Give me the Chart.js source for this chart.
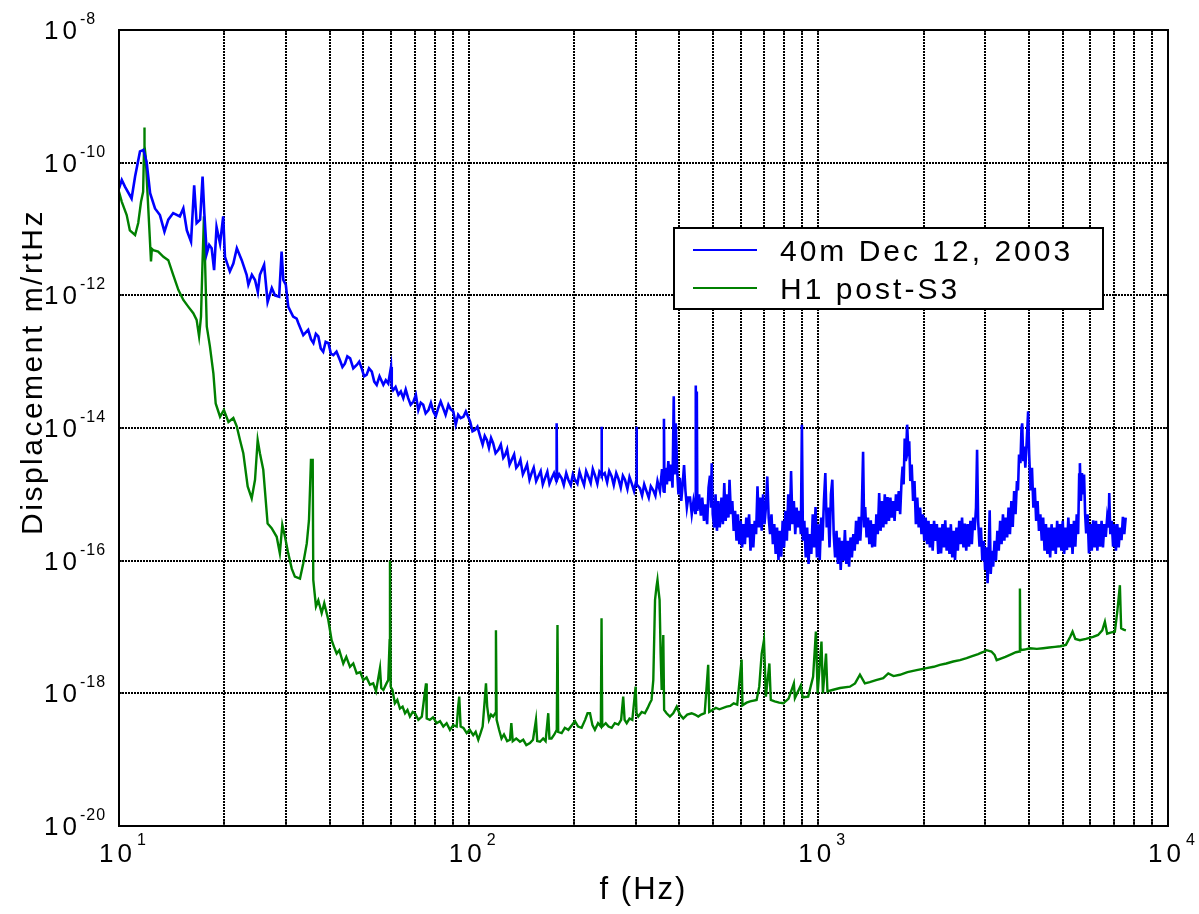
<!DOCTYPE html>
<html><head><meta charset="utf-8">
<script src="https://cdn.jsdelivr.net/npm/chart.js@4.4.1/dist/chart.umd.min.js"></script>
<style>html,body{margin:0;padding:0;background:#fff;}</style>
</head><body>
<canvas id="c" width="1199" height="914" style="width:1199px;height:914px;display:block"></canvas>
<script>
// ---- data (log10 frequency [Hz], log10 displacement [m/rtHz]) ----
const seriesLabels = ['40m Dec 12, 2003', 'H1 post-S3'];
const xGridValues = [10,20,30,40,50,60,70,80,90,100,200,300,400,500,600,700,800,900,1000,2000,3000,4000,5000,6000,7000,8000,9000,10000];
const yGridValues = [1e-20,1e-18,1e-16,1e-14,1e-12,1e-10,1e-8];
const xLabelValues = [10,100,1000,10000];
const xLabelExps = ['1','2','3','4'];
const yLabelValues = [1e-20,1e-18,1e-16,1e-14,1e-12,1e-10,1e-8];
const yLabelExps = ['-20','-18','-16','-14','-12','-10','-8'];

const blueLow = [[1.000,-10.39],[1.008,-10.26],[1.017,-10.36],[1.036,-10.54],[1.046,-10.21],[1.060,-9.83],[1.070,-9.81],[1.079,-9.99],[1.089,-10.46],[1.103,-10.69],[1.117,-10.79],[1.130,-11.04],[1.141,-10.86],[1.155,-10.76],[1.174,-10.81],[1.184,-10.69],[1.194,-11.02],[1.206,-11.19],[1.215,-10.34],[1.222,-10.91],[1.232,-10.86],[1.239,-10.21],[1.244,-10.76],[1.251,-11.37],[1.258,-11.24],[1.265,-11.29],[1.272,-11.62],[1.279,-10.97],[1.289,-11.22],[1.298,-10.81],[1.303,-11.42],[1.317,-11.64],[1.327,-11.52],[1.337,-11.29],[1.351,-11.47],[1.365,-11.69],[1.370,-11.84],[1.380,-11.69],[1.389,-11.77],[1.397,-11.95],[1.403,-11.69],[1.415,-11.54],[1.425,-12.10],[1.437,-11.89],[1.446,-12.00],[1.458,-12.02],[1.465,-11.34],[1.470,-11.77],[1.477,-11.84],[1.484,-12.17],[1.498,-12.32],[1.508,-12.35],[1.513,-12.42],[1.527,-12.60]];
const blueMid = [[1.541,-12.52],[1.549,-12.66],[1.556,-12.72],[1.563,-12.58],[1.570,-12.62],[1.577,-12.80],[1.584,-12.85],[1.591,-12.70],[1.599,-12.72],[1.606,-12.88],[1.613,-12.90],[1.622,-12.85],[1.632,-12.98],[1.639,-13.08],[1.646,-13.03],[1.653,-12.92],[1.661,-12.95],[1.670,-13.10],[1.680,-13.05],[1.687,-13.00],[1.694,-13.10],[1.701,-13.22],[1.708,-13.20],[1.715,-13.10],[1.723,-13.15],[1.730,-13.30],[1.737,-13.35],[1.745,-13.22],[1.756,-13.35],[1.763,-13.28],[1.770,-13.33],[1.778,-13.08],[1.780,-13.38],[1.784,-13.43],[1.791,-13.38],[1.799,-13.50],[1.806,-13.45],[1.813,-13.55],[1.820,-13.42],[1.827,-13.55],[1.834,-13.65],[1.842,-13.60],[1.849,-13.50],[1.856,-13.73],[1.863,-13.62],[1.870,-13.65],[1.877,-13.78],[1.885,-13.73],[1.892,-13.62],[1.899,-13.75],[1.906,-13.82],[1.913,-13.70],[1.920,-13.60],[1.927,-13.70],[1.934,-13.80],[1.942,-13.65],[1.949,-13.72],[1.956,-13.75],[1.963,-13.95],[1.970,-13.80],[1.977,-13.85],[1.985,-13.83],[1.992,-13.75],[2.004,-13.90],
[2.011,-14.05],[2.018,-14.03],[2.025,-13.98],[2.032,-14.11],[2.040,-14.25],[2.046,-14.12],[2.052,-14.18],[2.058,-14.30],[2.064,-14.15],[2.070,-14.23],[2.077,-14.38],[2.085,-14.33],[2.092,-14.25],[2.099,-14.45],[2.104,-14.41],[2.110,-14.32],[2.117,-14.55],[2.123,-14.48],[2.130,-14.40],[2.136,-14.60],[2.142,-14.56],[2.148,-14.48],[2.155,-14.70],[2.161,-14.63],[2.167,-14.55],[2.174,-14.78],[2.180,-14.68],[2.186,-14.60],[2.193,-14.80],[2.199,-14.73],[2.206,-14.65],[2.212,-14.85],[2.218,-14.76],[2.225,-14.66],[2.231,-14.84],[2.237,-14.76],[2.244,-14.68],[2.2505,-14.80],[2.2516,-13.93],[2.2527,-14.78],[2.259,-14.70],[2.266,-14.76],[2.272,-14.86],[2.279,-14.68],[2.285,-14.78],[2.292,-14.86],[2.298,-14.70],[2.304,-14.78],[2.311,-14.84],[2.317,-14.66],[2.323,-14.76],[2.330,-14.86],[2.336,-14.65],[2.342,-14.73],[2.349,-14.83],[2.355,-14.62],[2.361,-14.71],[2.368,-14.84],[2.374,-14.66],[2.379,-14.70],[2.380,-13.98],[2.381,-14.72],[2.389,-14.68],[2.396,-14.82],[2.402,-14.65],[2.409,-14.73],[2.415,-14.86],[2.422,-14.68],[2.428,-14.76],[2.435,-14.90],[2.441,-14.72],[2.447,-14.78],[2.454,-14.92],[2.460,-14.74],[2.466,-14.83],[2.473,-14.95],[2.479,-14.80],[2.480,-13.98],[2.481,-14.85],[2.490,-14.91],[2.496,-15.02],[2.502,-14.85],[2.509,-14.96],[2.515,-15.05],[2.521,-14.88],[2.528,-14.94],[2.534,-15.02],[2.540,-14.80],[2.547,-14.95],[2.553,-14.62],[2.5575,-14.95],[2.5585,-13.86],[2.560,-14.98],[2.563,-14.60],[2.567,-14.85],[2.571,-14.50],[2.575,-14.80],[2.579,-14.55],[2.583,-14.90],[2.5865,-13.52],[2.589,-14.70],[2.5925,-13.93],[2.596,-14.62],[2.600,-15.00],[2.604,-14.75],[2.608,-15.10],[2.612,-14.85],[2.616,-14.56],[2.620,-14.95],[2.624,-15.20],[2.628,-15.05]];
const blueHigh = [[2.633,-15.05],[2.638,-15.30],[2.643,-15.10],[2.648,-15.28],[2.6495,-13.36],[2.651,-15.05],[2.6525,-13.45],[2.654,-15.25],[2.659,-15.00],[2.664,-15.32],[2.668,-15.05],[2.673,-15.40],[2.677,-15.15],[2.682,-15.45],[2.686,-14.90],[2.690,-14.72],[2.693,-15.20],[2.695,-14.53],[2.698,-15.30],[2.702,-15.50],[2.706,-15.00],[2.710,-15.55],[2.714,-15.10],[2.718,-15.50],[2.723,-15.05],[2.727,-15.45],[2.731,-14.83],[2.735,-15.40],[2.739,-15.00],[2.743,-15.35],[2.746,-14.78],[2.750,-15.30],[2.754,-15.10],[2.758,-15.55],[2.762,-15.25],[2.766,-15.70],[2.770,-15.30],[2.774,-15.75],[2.778,-15.40],[2.782,-15.80],[2.786,-15.45],[2.790,-15.75],[2.794,-15.35],[2.798,-15.65],[2.802,-15.30],[2.806,-15.85],[2.810,-15.45],[2.814,-15.80],[2.818,-15.40],[2.822,-15.60],[2.826,-14.88],[2.830,-15.50],[2.834,-15.05],[2.838,-15.55],[2.842,-15.00],[2.846,-15.45],[2.850,-15.20],[2.854,-14.73],[2.858,-15.35],[2.862,-15.60],[2.866,-15.30],[2.870,-15.75],[2.874,-15.45],[2.878,-15.90],[2.882,-15.50],[2.886,-15.99],[2.890,-15.55],[2.894,-15.94],[2.898,-15.40],[2.902,-15.80],[2.906,-15.25],[2.910,-15.70],[2.914,-15.00],[2.918,-15.55],[2.922,-14.65],[2.926,-15.45],[2.930,-15.10],[2.934,-15.60],[2.938,-15.20],[2.942,-15.50],[2.946,-15.25],[2.950,-15.60],[2.953,-13.95],[2.956,-15.70],[2.960,-15.40],[2.964,-15.95],[2.968,-15.50],[2.972,-16.05],[2.976,-15.60],[2.980,-15.90],[2.984,-15.30],[2.988,-15.80],[2.992,-15.19],[2.996,-15.95],[3.000,-15.45],[3.004,-15.99],[3.008,-15.35],[3.012,-15.70],[3.016,-15.10],[3.020,-14.68],[3.024,-15.50],[3.028,-15.20],[3.032,-15.80],[3.036,-15.00],[3.040,-14.78],[3.044,-15.60],[3.048,-15.95],[3.052,-15.55],[3.056,-16.05],[3.060,-15.65],[3.064,-16.14],[3.068,-15.70],[3.072,-16.00],[3.076,-15.54],[3.080,-16.05],[3.084,-15.70],[3.088,-16.09],[3.092,-15.65],[3.096,-15.95],[3.100,-15.60],[3.104,-15.85],[3.108,-15.40],[3.112,-15.75],[3.116,-15.34],[3.120,-15.70],[3.124,-15.30],[3.128,-14.36],[3.131,-15.50],[3.134,-15.19],[3.138,-15.65],[3.142,-15.35],[3.146,-15.75],[3.150,-15.39],[3.154,-15.80],[3.158,-15.45],[3.162,-15.79],[3.166,-15.30],[3.170,-15.60],[3.174,-14.98],[3.178,-15.55],[3.182,-15.10],[3.186,-15.50],[3.190,-15.00],[3.194,-15.45],[3.198,-15.04],[3.202,-15.40],[3.206,-15.05],[3.210,-15.35],[3.214,-15.10],[3.218,-15.40],[3.222,-15.00],[3.226,-15.25],[3.230,-14.95],[3.234,-15.30],[3.238,-14.80],[3.241,-14.58],[3.244,-14.85],[3.247,-14.16],[3.250,-14.50],[3.254,-13.95],[3.257,-14.30],[3.260,-14.20],[3.263,-14.80],[3.267,-14.55],[3.271,-15.10],[3.275,-14.80],[3.279,-15.45],[3.283,-15.05],[3.287,-15.50],[3.291,-15.20],[3.295,-15.60],[3.299,-15.30],[3.303,-15.70],[3.307,-15.35],[3.311,-15.75],[3.315,-15.40],[3.319,-15.80],[3.323,-15.45],[3.327,-15.85],[3.331,-15.40],[3.335,-15.70],[3.339,-15.45],[3.343,-15.90],[3.347,-15.50],[3.351,-15.89],[3.355,-15.45],[3.359,-15.80],[3.363,-15.39],[3.367,-15.85],[3.371,-15.50],[3.375,-15.90],[3.379,-15.45],[3.383,-15.95],[3.387,-15.55],[3.391,-15.99],[3.395,-15.50],[3.399,-15.85],[3.403,-15.40],[3.407,-15.75],[3.411,-15.35],[3.415,-15.80],[3.419,-15.44],[3.423,-15.85],[3.427,-15.45],[3.431,-15.79],[3.435,-15.40],[3.439,-15.75],[3.443,-15.35],[3.447,-15.54],[3.451,-15.20],[3.454,-14.33],[3.457,-15.40],[3.461,-15.79],[3.465,-15.50],[3.469,-16.00],[3.473,-15.70],[3.477,-16.14],[3.481,-15.80],[3.484,-16.34],[3.487,-15.90],[3.490,-15.24],[3.493,-16.20],[3.497,-15.85],[3.500,-16.09],[3.504,-15.70],[3.508,-16.00],[3.512,-15.55],[3.516,-15.85],[3.520,-15.40],[3.524,-15.75],[3.528,-15.30],[3.532,-15.70],[3.536,-15.35],[3.540,-15.65],[3.544,-15.20],[3.548,-15.60],[3.552,-15.10],[3.556,-15.49],[3.560,-14.95],[3.564,-15.30],[3.568,-14.80],[3.571,-14.94],[3.574,-14.40],[3.578,-14.53],[3.581,-14.00],[3.583,-13.93],[3.586,-14.50],[3.589,-14.28],[3.592,-14.60],[3.596,-14.20],[3.600,-13.75],[3.603,-14.40],[3.607,-14.94],[3.611,-14.60],[3.615,-15.20],[3.619,-14.90],[3.623,-15.40],[3.627,-15.10],[3.631,-15.55],[3.635,-15.30],[3.639,-15.70],[3.643,-15.35],[3.647,-15.85],[3.651,-15.45],[3.655,-15.90],[3.659,-15.50],[3.663,-15.95],[3.667,-15.45],[3.671,-15.85],[3.675,-15.50],[3.679,-15.90],[3.683,-15.40],[3.687,-15.80],[3.691,-15.45],[3.695,-15.85],[3.699,-15.40],[3.703,-15.90],[3.707,-15.50],[3.711,-15.84],[3.715,-15.35],[3.719,-15.80],[3.723,-15.45],[3.727,-15.90],[3.731,-15.40],[3.735,-15.79],[3.739,-15.30],[3.743,-15.60],[3.746,-14.70],[3.748,-14.53],[3.751,-15.10],[3.754,-14.68],[3.757,-15.00],[3.760,-14.70],[3.763,-15.30],[3.766,-15.59],[3.770,-15.30],[3.774,-15.89],[3.778,-15.45],[3.782,-15.85],[3.786,-15.39],[3.790,-15.80],[3.794,-15.40],[3.798,-15.85],[3.802,-15.45],[3.806,-15.79],[3.810,-15.40],[3.814,-15.80],[3.818,-15.45],[3.822,-15.64],[3.826,-15.35],[3.830,-15.50],[3.832,-14.98],[3.835,-15.60],[3.839,-15.40],[3.843,-15.79],[3.847,-15.45],[3.851,-15.85],[3.855,-15.45],[3.859,-15.80],[3.863,-15.50],[3.867,-15.69],[3.871,-15.34],[3.875,-15.60],[3.879,-15.35]];

const greenSeries = [[1.000,-10.44],[1.008,-10.59],[1.022,-10.79],[1.031,-11.02],[1.046,-11.09],[1.055,-10.91],[1.063,-10.59],[1.069,-10.44],[1.0715,-9.80],[1.0724,-9.47],[1.0735,-9.75],[1.0763,-9.91],[1.081,-10.41],[1.087,-11.02],[1.0915,-11.49],[1.094,-11.30],[1.098,-11.32],[1.112,-11.34],[1.127,-11.42],[1.141,-11.47],[1.155,-11.69],[1.170,-11.92],[1.184,-12.07],[1.198,-12.17],[1.2125,-12.27],[1.222,-12.37],[1.229,-12.62],[1.2345,-12.32],[1.239,-11.47],[1.243,-10.81],[1.246,-11.47],[1.251,-12.47],[1.260,-12.77],[1.270,-13.18],[1.2765,-13.63],[1.289,-13.83],[1.300,-13.73],[1.313,-13.91],[1.327,-13.85],[1.337,-13.98],[1.346,-14.18],[1.3555,-14.38],[1.368,-14.88],[1.3795,-15.06],[1.389,-14.78],[1.3966,-14.18],[1.403,-14.38],[1.4126,-14.63],[1.425,-15.44],[1.4366,-15.51],[1.451,-15.64],[1.460,-15.89],[1.467,-15.46],[1.4747,-15.64],[1.484,-15.89],[1.494,-16.12],[1.503,-16.24],[1.5176,-16.27],[1.527,-16.04],[1.537,-15.74],[1.5433,-15.39],[1.549,-14.48],[1.554,-14.48],[1.5556,-16.29],[1.5633,-16.69],[1.570,-16.60],[1.5796,-16.79],[1.587,-16.64],[1.5985,-16.89],[1.608,-17.20],[1.615,-17.30],[1.6225,-17.40],[1.630,-17.35],[1.6414,-17.55],[1.650,-17.45],[1.6606,-17.60],[1.670,-17.55],[1.6797,-17.70],[1.690,-17.68],[1.6986,-17.80],[1.708,-17.76],[1.7177,-17.87],[1.727,-17.85],[1.735,-17.97],[1.7464,-17.62],[1.750,-17.92],[1.756,-17.95],[1.765,-17.85],[1.770,-17.80],[1.774,-17.20],[1.775,-16.00],[1.777,-17.90],[1.782,-17.95],[1.789,-18.15],[1.796,-18.10],[1.8035,-18.23],[1.811,-18.20],[1.818,-18.30],[1.825,-18.25],[1.832,-18.35],[1.840,-18.28],[1.8465,-18.30],[1.856,-18.40],[1.866,-18.35],[1.878,-17.85],[1.880,-18.38],[1.889,-18.40],[1.898,-18.36],[1.9085,-18.45],[1.918,-18.42],[1.9275,-18.50],[1.937,-18.45],[1.9465,-18.55],[1.956,-18.48],[1.9657,-18.50],[1.970,-18.20],[1.973,-18.05],[1.977,-18.50],[1.985,-18.52],[1.9943,-18.60],[2.003,-18.55],[2.013,-18.63],[2.020,-18.58],[2.0275,-18.70],[2.034,-18.60],[2.040,-18.50],[2.046,-18.10],[2.0495,-17.85],[2.053,-18.20],[2.058,-18.40],[2.064,-18.32],[2.070,-18.35],[2.076,-18.30],[2.078,-17.05],[2.080,-18.40],[2.087,-18.55],[2.094,-18.68],[2.101,-18.62],[2.110,-18.72],[2.118,-18.70],[2.122,-18.45],[2.126,-18.72],[2.136,-18.68],[2.1467,-18.73],[2.156,-18.70],[2.165,-18.78],[2.1753,-18.75],[2.184,-18.70],[2.1925,-18.40],[2.196,-18.72],[2.204,-18.73],[2.213,-18.68],[2.220,-18.72],[2.2276,-18.30],[2.231,-18.68],[2.237,-18.68],[2.245,-18.62],[2.252,-18.55],[2.254,-16.97],[2.256,-18.58],[2.266,-18.60],[2.275,-18.52],[2.285,-18.55],[2.295,-18.48],[2.304,-18.42],[2.313,-18.50],[2.323,-18.52],[2.333,-18.40],[2.340,-18.30],[2.347,-18.30],[2.354,-18.48],[2.361,-18.55],[2.370,-18.45],[2.378,-18.50],[2.380,-16.87],[2.382,-18.50],[2.392,-18.45],[2.400,-18.50],[2.409,-18.52],[2.418,-18.45],[2.428,-18.47],[2.436,-18.40],[2.442,-18.05],[2.446,-18.40],[2.452,-18.45],[2.460,-18.38],[2.468,-18.40],[2.4775,-17.90],[2.480,-18.30],[2.485,-18.35],[2.495,-18.28],[2.504,-18.30],[2.512,-18.22],[2.518,-18.15],[2.523,-18.10],[2.528,-17.80],[2.533,-16.59],[2.537,-16.40],[2.540,-16.29],[2.543,-16.45],[2.546,-16.59],[2.549,-17.40],[2.552,-17.95],[2.5566,-17.12],[2.559,-18.25],[2.566,-18.30],[2.5756,-18.35],[2.585,-18.30],[2.595,-18.20],[2.604,-18.32],[2.6137,-18.38],[2.625,-18.32],[2.6377,-18.30],[2.647,-18.32],[2.6566,-18.35],[2.665,-18.32],[2.675,-18.30],[2.685,-17.57],[2.688,-18.28],[2.697,-18.25],[2.707,-18.22],[2.717,-18.24],[2.7377,-18.20],[2.748,-18.19],[2.758,-18.15],[2.768,-18.17],[2.7806,-17.49],[2.783,-18.18],[2.795,-18.14],[2.805,-18.12],[2.8235,-18.10],[2.831,-17.90],[2.838,-17.40],[2.8445,-17.20],[2.850,-18.05],[2.860,-17.55],[2.864,-18.10],[2.875,-18.12],[2.888,-18.14],[2.900,-18.15],[2.915,-18.08],[2.930,-17.85],[2.933,-18.07],[2.950,-17.88],[2.955,-18.06],[2.971,-18.05],[2.985,-17.75],[2.993,-17.07],[2.998,-18.00],[3.009,-17.22],[3.013,-18.00],[3.022,-17.40],[3.026,-17.97],[3.040,-17.95],[3.062,-17.92],[3.0903,-17.90],[3.105,-17.85],[3.119,-17.72],[3.133,-17.85],[3.147,-17.83],[3.165,-17.80],[3.1856,-17.77],[3.200,-17.70],[3.215,-17.74],[3.2333,-17.72],[3.255,-17.68],[3.281,-17.65],[3.3096,-17.62],[3.330,-17.60],[3.3477,-17.57],[3.366,-17.55],[3.3857,-17.52],[3.405,-17.50],[3.424,-17.47],[3.440,-17.44],[3.457,-17.41],[3.470,-17.38],[3.481,-17.35],[3.495,-17.37],[3.504,-17.42],[3.510,-17.50],[3.520,-17.48],[3.535,-17.45],[3.548,-17.42],[3.565,-17.38],[3.5755,-17.37],[3.5765,-16.42],[3.578,-17.35],[3.590,-17.34],[3.605,-17.32],[3.625,-17.33],[3.643,-17.32],[3.660,-17.31],[3.6766,-17.30],[3.692,-17.29],[3.708,-17.27],[3.720,-17.15],[3.727,-17.07],[3.735,-17.18],[3.748,-17.20],[3.765,-17.18],[3.786,-17.15],[3.800,-17.12],[3.812,-17.05],[3.8195,-16.92],[3.826,-17.10],[3.838,-17.08],[3.848,-17.07],[3.855,-16.77],[3.8624,-16.37],[3.866,-17.02],[3.873,-17.04],[3.8796,-17.05]];

// ---- build chart ----
const toPoints = arr => arr.map(p => ({x: Math.pow(10, p[0]), y: Math.pow(10, p[1])}));
const bluePoints = toPoints(blueLow.concat(blueMid, blueHigh));
const greenPoints = toPoints(greenSeries);
const FONT = '"Liberation Sans", Arial, sans-serif';

function drawText(ctx, txt, x, y, spacing) {
  ctx.letterSpacing = spacing + 'px';
  ctx.fillText(txt, x, y);
  ctx.letterSpacing = '0px';
}

// dotted grid drawn from the scales' own tick values / pixels
const gridPlugin = {
  id: 'dotgrid',
  beforeDatasetsDraw(chart) {
    const ctx = chart.ctx, a = chart.chartArea;
    const xs = chart.scales.x, ys = chart.scales.y;
    ctx.save();
    ctx.strokeStyle = '#000';
    ctx.lineWidth = 2;
    ctx.setLineDash([2, 1]);
    ctx.beginPath();
    xs.ticks.forEach(t => {
      const px = Math.round(xs.getPixelForValue(t.value));
      ctx.moveTo(px, a.top); ctx.lineTo(px, a.bottom);
    });
    ys.ticks.forEach(t => {
      const py = Math.round(ys.getPixelForValue(t.value));
      ctx.moveTo(a.left, py); ctx.lineTo(a.right, py);
    });
    ctx.stroke();
    ctx.restore();
  }
};

const decorPlugin = {
  id: 'decor',
  afterDraw(chart) {
    const ctx = chart.ctx, a = chart.chartArea;
    const xs = chart.scales.x, ys = chart.scales.y;
    ctx.save();
    // frame
    ctx.strokeStyle = '#000'; ctx.lineWidth = 2; ctx.setLineDash([]);
    ctx.strokeRect(a.left, a.top, a.right - a.left, a.bottom - a.top);
    // inward tick marks
    ctx.lineWidth = 1.5;
    ctx.beginPath();
    xGridValues.forEach(v => {
      const px = Math.round(xs.getPixelForValue(v));
      ctx.moveTo(px, a.bottom); ctx.lineTo(px, a.bottom - 5);
      ctx.moveTo(px, a.top); ctx.lineTo(px, a.top + 5);
    });
    yGridValues.forEach(v => {
      const py = Math.round(ys.getPixelForValue(v));
      ctx.moveTo(a.left, py); ctx.lineTo(a.left + 5, py);
      ctx.moveTo(a.right, py); ctx.lineTo(a.right - 5, py);
    });
    ctx.stroke();
    // tick labels
    ctx.fillStyle = '#000';
    ctx.textBaseline = 'alphabetic';
    ctx.textAlign = 'left';
    yLabelValues.forEach((v, i) => {
      const py = ys.getPixelForValue(v);
      ctx.font = '26px ' + FONT;
      drawText(ctx, '10', 44, py + 9, 4);
      ctx.font = '16px ' + FONT;
      drawText(ctx, yLabelExps[i], 80, py - 6, 1);
    });
    xLabelValues.forEach((v, i) => {
      const px = xs.getPixelForValue(v);
      ctx.font = '26px ' + FONT;
      drawText(ctx, '10', px - 20, 862, 4);
      ctx.font = '16px ' + FONT;
      drawText(ctx, xLabelExps[i], px + 18, 845, 1);
    });
    // axis titles
    ctx.font = '31px ' + FONT;
    ctx.textAlign = 'center';
    drawText(ctx, 'f (Hz)', (a.left + a.right) / 2, 899, 2);
    ctx.save();
    ctx.translate(42, 372);
    ctx.rotate(-Math.PI / 2);
    ctx.font = '30px ' + FONT;
    drawText(ctx, 'Displacement m/rtHz', 0, 0, 2.5);
    ctx.restore();
    // legend
    const bx = 674, by = 228, bw = 429, bh = 81;
    ctx.fillStyle = '#fff';
    ctx.fillRect(bx, by, bw, bh);
    ctx.strokeStyle = '#000'; ctx.lineWidth = 2;
    ctx.strokeRect(bx, by, bw, bh);
    const rows = [250, 288];
    chart.data.datasets.forEach((ds, i) => {
      ctx.strokeStyle = ds.borderColor; ctx.lineWidth = 2;
      ctx.beginPath(); ctx.moveTo(693, rows[i]); ctx.lineTo(757, rows[i]); ctx.stroke();
      ctx.fillStyle = '#000';
      ctx.font = '30px ' + FONT;
      ctx.textAlign = 'left';
      drawText(ctx, ds.label, 780, rows[i] + 11, 3);
    });
    ctx.restore();
  }
};

new Chart(document.getElementById('c'), {
  type: 'scatter',
  data: {
    datasets: [
      {label: seriesLabels[0], data: bluePoints, showLine: true, borderColor: '#0000ff', borderWidth: 2.6, pointRadius: 0, tension: 0, fill: false},
      {label: seriesLabels[1], data: greenPoints, showLine: true, borderColor: '#008000', borderWidth: 2.4, pointRadius: 0, tension: 0, fill: false}
    ]
  },
  options: {
    responsive: false,
    animation: false,
    devicePixelRatio: 1,
    layout: {padding: {top: 30, right: 31, left: 0, bottom: 0}},
    plugins: {legend: {display: false}, tooltip: {enabled: false}, title: {display: false}},
    scales: {
      x: {
        type: 'logarithmic', min: 10, max: 10000, position: 'bottom',
        afterBuildTicks: s => { s.ticks = xGridValues.map(v => ({value: v})); },
        afterFit: s => { s.height = 88; },
        ticks: {display: false},
        grid: {display: false, drawTicks: false},
        border: {display: false}
      },
      y: {
        type: 'logarithmic', min: 1e-20, max: 1e-8, position: 'left',
        afterBuildTicks: s => { s.ticks = yGridValues.map(v => ({value: v})); },
        afterFit: s => { s.width = 119; },
        ticks: {display: false},
        grid: {display: false, drawTicks: false},
        border: {display: false}
      }
    }
  },
  plugins: [gridPlugin, decorPlugin]
});
</script>
</body></html>
